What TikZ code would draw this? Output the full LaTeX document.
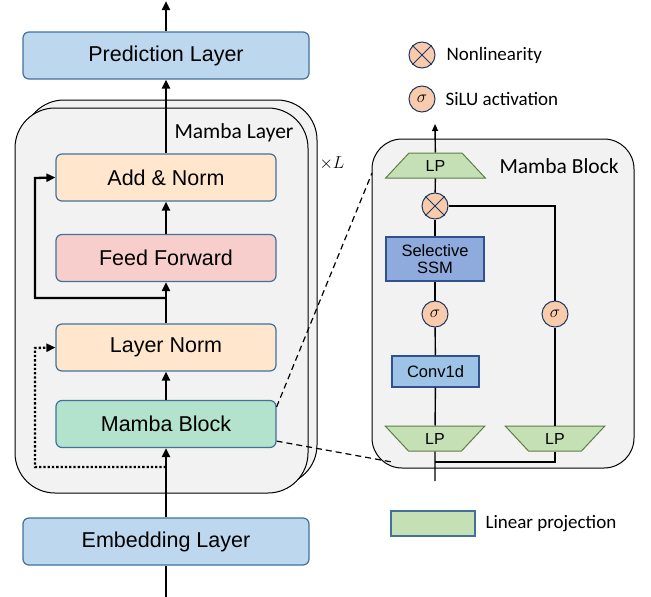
\documentclass[tikz,border=0pt]{standalone}
\usepackage{fontspec}
\setmainfont{Liberation Sans}
\newfontfamily\calib{Carlito}
\usepackage{tikz}
\usetikzlibrary{positioning,arrows.meta,shapes.geometric}
\usepackage{xcolor}
\definecolor{edgeblue}{HTML}{41719C}
\definecolor{darkedge}{HTML}{2F528F}
\definecolor{predblue}{HTML}{BDD7EE}
\definecolor{normorange}{HTML}{FFE6CC}
\definecolor{ffpink}{HTML}{F8CECC}
\definecolor{mbgreen}{HTML}{B3E2CD}
\definecolor{panelgray}{HTML}{F2F2F2}
\definecolor{ssmblue}{HTML}{8FAADC}
\definecolor{convblue}{HTML}{9DC3E6}
\definecolor{lpgreen}{HTML}{C5E0B4}
\definecolor{lpedge}{HTML}{5E7F46}
\definecolor{peach}{HTML}{F8CBAD}
\definecolor{navy}{HTML}{203864}

\begin{document}
\begin{tikzpicture}[x=1pt, y=-1pt,
	layerbox/.style={draw=edgeblue, line width=1.2pt, rounded corners=6pt, minimum height=47pt, font=\fontsize{21.5}{24}\selectfont},
	innerbox/.style={layerbox, minimum width=220pt},
	outerbox/.style={layerbox, minimum width=286pt, fill=predblue},
	main/.style={line width=2.3pt, -{Triangle[length=9pt,width=8pt]}},
	thin/.style={line width=1.4pt},
	zoomline/.style={line width=1.2pt, dash pattern=on 6pt off 4pt},
	lpbox/.style={trapezium, trapezium angle=52, trapezium stretches=true, draw=lpedge, fill=lpgreen, line width=1pt, minimum width=100pt, minimum height=25pt, inner sep=0pt, font=\fontsize{16}{18}\selectfont},
	opcirc/.style={circle, draw=navy, fill=peach, line width=1pt, minimum size=26pt, inner sep=0pt, font=\fontsize{17}{17}\selectfont},
	opbox/.style={draw=darkedge, line width=1.1pt, inner sep=0pt, font=\fontsize{16.5}{19}\selectfont}]
	\useasboundingbox (0,0) rectangle (651,597);

	% Mamba layer (stacked)
	\draw [fill=panelgray, line width=1pt, rounded corners=40pt] (24,100) rectangle (317,485);
	\draw [fill=panelgray, line width=1pt, rounded corners=40pt] (15,108) rectangle (308,493);
	\node [anchor=east, font=\calib\fontsize{21.5}{24}\selectfont] (lname) at (297,133) {Mamba Layer};
	\node [font=\fontsize{18}{20}\selectfont] (times) at (332,163) {$\times L$};

	% left stack
	\node [outerbox] (pred) at (166,55.5) {Prediction Layer};
	\node [innerbox, fill=normorange] (an) at (166,177.5) {Add \& Norm};
	\node [innerbox, fill=ffpink] (ff) at (166,258) {Feed Forward};
	\node [innerbox, fill=normorange] (ln) at (166,347.5) {Layer Norm};
	\node [innerbox, fill=mbgreen] (mb) at (166,424) {Mamba Block};
	\node [outerbox] (emb) at (166,541.5) {Embedding Layer};

	\coordinate (top) at (166,1);
	\coordinate (bot) at (166,597);
	\coordinate (r1) at (166,298);
	\coordinate (r2) at (35,178);
	\coordinate (d1) at (166,467);
	\coordinate (d2) at (35,348);

	\draw [line width=2.3pt] (bot) -- (emb);
	\draw [main] (emb) -- (mb);
	\draw [main] (mb) -- (ln);
	\draw [main] (ln) -- (ff);
	\draw [main] (ff) -- (an);
	\draw [main] (an) -- (pred);
	\draw [main] (pred) -- (top);
	\draw [main] (r1) -| (r2) -- (an.west);
	\draw [main, dotted] (d1) -| (d2) -- (ln.west);

	% Mamba block detail
	\draw [fill=panelgray, line width=1pt, rounded corners=30pt] (372,139) rectangle (634,468);
	\node [anchor=west, font=\calib\fontsize{21.5}{24}\selectfont] (bname) at (496,166) {Mamba Block};

	\node [lpbox] (lpt) at (435.5,165.5) {LP};
	\node [opcirc] (mul) at (435,206) {};
	\draw [navy, line width=1pt] (mul.north west) -- (mul.south east) (mul.north east) -- (mul.south west);
	\node [opbox, fill=ssmblue, minimum width=98pt, minimum height=44pt, align=center] (ssm) at (435,259) {Selective\\[-2pt]SSM};
	\node [opcirc] (sigl) at (435,314) {$\sigma$};
	\node [opbox, fill=convblue, minimum width=87pt, minimum height=31pt] (conv) at (435.5,371.5) {Conv1d};
	\node [lpbox, shape border rotate=180] (lpl) at (435,438.5) {LP};
	\node [lpbox, shape border rotate=180] (lpr) at (555,438.5) {LP};
	\node [opcirc] (sigr) at (555,314) {$\sigma$};

	\coordinate (in) at (435,481);
	\coordinate (split) at (435,462);
	\coordinate (out) at (435,124);

	\draw [thin] (in) -- (lpl);
	\draw [thin] (split) -| (lpr);
	\draw [thin] (lpl) -- (conv);
	\draw [thin] (conv) -- (sigl);
	\draw [thin] (sigl) -- (ssm);
	\draw [thin] (ssm) -- (mul);
	\draw [thin] (mul) -- (lpt);
	\draw [thin, -{Triangle[length=7pt,width=6pt]}] (lpt) -- (out);
	\draw [thin] (lpr) -- (sigr);
	\draw [thin] (sigr) |- (mul);

	% zoom lines
	\coordinate (zt) at (372,173);
	\coordinate (zb) at (392,462);
	\draw [zoomline] ([yshift=-7pt]mb.north east) -- (zt);
	\draw [zoomline] ([yshift=7pt]mb.south east) -- (zb);

	% legend
	\node [opcirc] (legx) at (422,55) {};
	\draw [navy, line width=1pt] (legx.north west) -- (legx.south east) (legx.north east) -- (legx.south west);
	\node [anchor=west, font=\calib\fontsize{19}{22}\selectfont] (legxt) at (443,55) {Nonlinearity};
	\node [opcirc] (legs) at (422,99) {$\sigma$};
	\node [anchor=west, font=\calib\fontsize{19}{22}\selectfont] (legst) at (442,99) {SiLU activation};
	\node [draw=edgeblue, fill=lpgreen, line width=1.1pt, minimum width=84pt, minimum height=25pt, inner sep=0pt] (legl) at (433,523.5) {};
	\node [anchor=west, font=\calib\fontsize{19}{22}\selectfont] (legt) at (482,523.5) {Linear projection};
\end{tikzpicture}
\end{document}
